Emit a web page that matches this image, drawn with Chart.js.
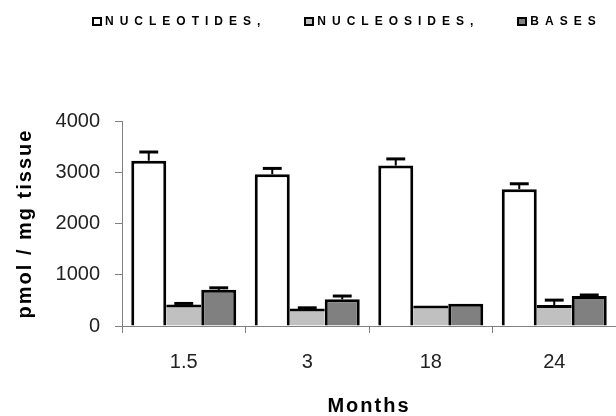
<!DOCTYPE html>
<html>
<head>
<meta charset="utf-8">
<script src="https://cdn.jsdelivr.net/npm/chart.js@4/dist/chart.umd.min.js"></script>
<style>
  html, body { margin: 0; padding: 0; background: #fff; }
  #wrap { position: relative; width: 616px; height: 416px; }
  #legend { position: absolute; top: 14px; left: 92px; display: flex; gap: 38px;
    font: bold 12px "Liberation Sans", Arial, sans-serif; letter-spacing: 6px; line-height: 14px; color: #000; }
  #legend .item { display: flex; align-items: center; white-space: nowrap; }
  #legend .box { display: inline-block; width: 10px; height: 9px; box-sizing: border-box;
    border: 2px solid #000; margin-right: 3px; }
</style>
</head>
<body>
<div id="wrap">
  <div id="legend"></div>
  <canvas id="chart" width="616" height="416"></canvas>
</div>
<script>
(function () {
	'use strict';

	var months = ['1.5', '3', '18', '24'];
	var nucleotides = [3225, 2960, 3130, 2670];
	var nucleotidesErr = [170, 115, 130, 105];
	var nucleosides = [420, 340, 400, 410];
	var nucleosidesErr = [20, 15, 0, 95];
	var bases = [705, 520, 435, 585];
	var basesErr = [40, 65, 0, 20];
	var yTicks = [0, 1000, 2000, 3000, 4000];

	var FONT = '"Liberation Sans", Arial, sans-serif';
	var AXIS = '#808080';

	// Error bars drawn from each bar's own element and the y scale
	var errorBars = {
		id: 'errorBars',
		afterDatasetsDraw: function (chart) {
			var ctx = chart.ctx, y = chart.scales.y;
			chart.data.datasets.forEach(function (ds, i) {
				if (!ds.errors) return;
				chart.getDatasetMeta(i).data.forEach(function (bar, j) {
					var e = ds.errors[j];
					if (!e) return;
					var top = y.getPixelForValue(ds.data[j] + e);
					var half = bar.width * 0.27;
					ctx.save();
					ctx.strokeStyle = '#000';
					ctx.lineWidth = 2;
					ctx.beginPath();
					ctx.moveTo(bar.x, bar.y);
					ctx.lineTo(bar.x, top);
					ctx.stroke();
					ctx.lineWidth = 3;
					ctx.beginPath();
					ctx.moveTo(bar.x - half, top);
					ctx.lineTo(bar.x + half, top);
					ctx.stroke();
					ctx.restore();
				});
			});
		}
	};

	// Letter-spaced axis titles
	var spacedTitles = {
		id: 'spacedTitles',
		beforeDraw: function (chart) {
			Object.keys(chart.scales).forEach(function (k) {
				var s = chart.scales[k];
				if (s._spaced) return;
				var orig = s.drawTitle;
				s.drawTitle = function () {
					this.ctx.letterSpacing = '2px';
					orig.call(this);
					this.ctx.letterSpacing = '0px';
				};
				s._spaced = true;
			});
		}
	};

	// HTML legend built from the chart's own legend items
	var htmlLegend = {
		id: 'htmlLegend',
		afterUpdate: function (chart) {
			var box = document.getElementById('legend');
			box.innerHTML = '';
			var items = Chart.defaults.plugins.legend.labels.generateLabels(chart);
			items.forEach(function (it) {
				var el = document.createElement('span');
				el.className = 'item';
				var sw = document.createElement('span');
				sw.className = 'box';
				sw.style.background = it.fillStyle;
				var tx = document.createElement('span');
				tx.textContent = it.text;
				el.appendChild(sw);
				el.appendChild(tx);
				box.appendChild(el);
			});
		}
	};

	new Chart(document.getElementById('chart').getContext('2d'), {
		type: 'bar',
		data: {
			labels: months,
			datasets: [
				{ label: 'NUCLEOTIDES,', data: nucleotides, errors: nucleotidesErr,
					backgroundColor: '#ffffff', borderColor: '#000',
					borderWidth: { top: 3, left: 3, right: 3, bottom: 0 } },
				{ label: 'NUCLEOSIDES,', data: nucleosides, errors: nucleosidesErr,
					backgroundColor: '#c0c0c0', borderColor: '#000',
					borderWidth: { top: 3, left: 0, right: 0, bottom: 0 } },
				{ label: 'BASES', data: bases, errors: basesErr,
					backgroundColor: '#808080', borderColor: '#000',
					borderWidth: { top: 3, left: 3, right: 3, bottom: 0 } }
			]
		},
		options: {
			responsive: false,
			animation: false,
			categoryPercentage: 0.85,
			barPercentage: 1,
			layout: { padding: { top: 121, right: 0, bottom: 0, left: 0 } },
			plugins: { legend: { display: false }, tooltip: { enabled: false } },
			scales: {
				x: {
					afterFit: function (s) { s.height = 90; },
					grid: { drawOnChartArea: false, drawTicks: true, tickLength: 7, color: AXIS, offset: true },
					border: { display: true, color: AXIS, width: 1 },
					ticks: { color: '#222', padding: 17, font: { family: FONT, size: 20 } },
					title: { display: true, text: 'Months', color: '#000',
						font: { family: FONT, size: 20, weight: 'bold', lineHeight: 1 },
						padding: { top: 0, bottom: 0 } }
				},
				y: {
					min: 0, max: 4000,
					afterFit: function (s) { s.width = 122; },
					afterBuildTicks: function (s) { s.ticks = yTicks.map(function (v) { return { value: v }; }); },
					grid: { drawOnChartArea: false, drawTicks: true, tickLength: 7, color: AXIS },
					border: { display: true, color: AXIS, width: 1 },
					ticks: { color: '#222', padding: 15, font: { family: FONT, size: 20 },
						callback: function (v) { return String(v); } },
					title: { display: true, text: 'pmol / mg tissue', color: '#000',
						font: { family: FONT, size: 20, weight: 'bold', lineHeight: 1 },
						padding: { top: 15, bottom: 0 } }
				}
			}
		},
		plugins: [errorBars, spacedTitles, htmlLegend]
	});
}());
</script>
</body>
</html>
